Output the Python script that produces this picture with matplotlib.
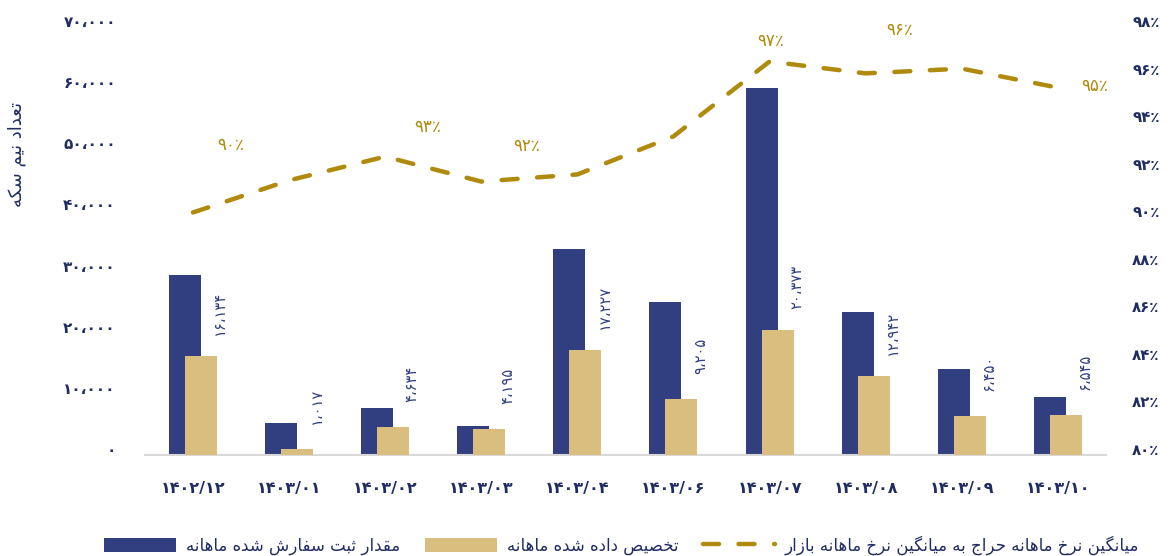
import matplotlib
matplotlib.use("Agg")
import matplotlib.pyplot as plt
import matplotlib.transforms as mtransforms
import numpy as np

# month labels (Persian calendar)
months = ['۱۴۰۲/۱۲', '۱۴۰۳/۰۱', '۱۴۰۳/۰۲', '۱۴۰۳/۰۳', '۱۴۰۳/۰۴',
          '۱۴۰۳/۰۶', '۱۴۰۳/۰۷', '۱۴۰۳/۰۸', '۱۴۰۳/۰۹', '۱۴۰۳/۱۰']
# monthly registered orders (half coins)
registered = [29440, 5190, 7640, 4750, 33700, 25020, 60080, 23440, 14130, 9550]
# monthly allocated (labelled values)
allocated = [16134, 1017, 4634, 4195, 17227, 9205, 20373, 12942, 6450, 6545]
# auction rate / market rate (%)
ratio = [90.2, 91.55, 92.55, 91.5, 91.8, 93.4, 96.55, 96.05, 96.25, 95.45]
# line labels: (point index, text, dx px, dy px)
ratio_labels = [(0, '۹۰٪', 38, 67), (2, '۹۳٪', 43, 30), (3, '۹۲٪', 45, 36),
                (6, '۹۷٪', 1, 20), (7, '۹۶٪', 34, 43), (9, '۹۵٪', 37, 2)]

y_title = 'تعداد نیم سکه'
name_registered = 'مقدار ثبت سفارش شده ماهانه'
name_allocated = 'تخصیص داده شده ماهانه'
name_ratio = 'میانگین نرخ ماهانه حراج به میانگین نرخ ماهانه بازار'

NAVY = '#1f2d62'
DARK = '#313f80'
TAN = '#dabe7f'
GOLD = '#b08a0c'

# --- minimal Persian shaping (matplotlib has no text shaping) ---
# letter: (isolated, final, initial, medial); None = does not join forward
FORMS = {
    'ا': ('\uFE8D', '\uFE8E', None, None),
    'ب': ('\uFE8F', '\uFE90', '\uFE91', '\uFE92'),
    'ت': ('\uFE95', '\uFE96', '\uFE97', '\uFE98'),
    'ث': ('\uFE99', '\uFE9A', '\uFE9B', '\uFE9C'),
    'ج': ('\uFE9D', '\uFE9E', '\uFE9F', '\uFEA0'),
    'ح': ('\uFEA1', '\uFEA2', '\uFEA3', '\uFEA4'),
    'خ': ('\uFEA5', '\uFEA6', '\uFEA7', '\uFEA8'),
    'د': ('\uFEA9', '\uFEAA', None, None),
    'ر': ('\uFEAD', '\uFEAE', None, None),
    'ز': ('\uFEAF', '\uFEB0', None, None),
    'س': ('\uFEB1', '\uFEB2', '\uFEB3', '\uFEB4'),
    'ش': ('\uFEB5', '\uFEB6', '\uFEB7', '\uFEB8'),
    'ص': ('\uFEB9', '\uFEBA', '\uFEBB', '\uFEBC'),
    'ع': ('\uFEC9', '\uFECA', '\uFECB', '\uFECC'),
    'ف': ('\uFED1', '\uFED2', '\uFED3', '\uFED4'),
    'ق': ('\uFED5', '\uFED6', '\uFED7', '\uFED8'),
    'م': ('\uFEE1', '\uFEE2', '\uFEE3', '\uFEE4'),
    'ن': ('\uFEE5', '\uFEE6', '\uFEE7', '\uFEE8'),
    'ه': ('\uFEE9', '\uFEEA', '\uFEEB', '\uFEEC'),
    'و': ('\uFEED', '\uFEEE', None, None),
    'ی': ('\uFBFC', '\uFBFD', '\uFBFE', '\uFBFF'),
    'ک': ('\uFB8E', '\uFB8F', '\uFB90', '\uFB91'),
    'گ': ('\uFB92', '\uFB93', '\uFB94', '\uFB95'),
}


def fa(text):
    out = []
    for i, c in enumerate(text):
        if c not in FORMS:
            out.append(c)
            continue
        prev = text[i - 1] if i > 0 else ''
        nxt = text[i + 1] if i + 1 < len(text) else ''
        jp = prev in FORMS and FORMS[prev][2] is not None
        jn = FORMS[c][2] is not None and nxt in FORMS
        iso, fin, ini, med = FORMS[c]
        if jp and jn:
            out.append(med)
        elif jp:
            out.append(fin)
        elif jn:
            out.append(ini)
        else:
            out.append(iso)
    return ''.join(out)[::-1]


def fa_num(v):
    s = f'{int(v):,}'.replace(',', '،')
    return s.translate(str.maketrans('0123456789', '۰۱۲۳۴۵۶۷۸۹'))


plt.rcParams['font.family'] = ['DejaVu Sans']

fig = plt.figure(figsize=(11.69, 5.56), dpi=100)
ax = fig.add_axes([0.124, 0.1817, 0.822, 0.7697])
ax2 = ax.twinx()

x = np.arange(len(months))
w = 0.333
off = 0.083
ax.bar(x - off, registered, w, color=DARK, zorder=2, label=fa(name_registered))
ax.bar(x + off, allocated, w, color=TAN, zorder=3, label=fa(name_allocated))

for i, v in enumerate(allocated):
    ax.annotate(fa_num(v), (x[i] + 0.28, v), xytext=(0, 43), textcoords='offset pixels',
                rotation=90, ha='center', va='center', fontsize=10.5, color=DARK, zorder=4)

ax2.plot(x, ratio, color=GOLD, lw=3.2, linestyle=(0, (3.6, 4.4)),
         dash_capstyle='round', label=fa(name_ratio))
for i, txt, dx, dy in ratio_labels:
    ax2.annotate(txt, (x[i], ratio[i]), xytext=(dx, dy), textcoords='offset pixels',
                 ha='center', va='center', fontsize=12, color=GOLD)

ax.set_xlim(-0.5, len(months) - 0.5)
ax.set_ylim(0, 70000)
ax2.set_ylim(80, 98)
ax.set_yticks(np.arange(0, 70001, 10000))
ax.set_yticklabels([fa_num(v) for v in range(0, 70001, 10000)])
ax2.set_yticks(np.arange(80, 99, 2))
ax2.set_yticklabels([fa_num(v) + '٪' for v in range(80, 99, 2)])
ax.set_xticks(x)
ax.set_xticklabels(months)

for a in (ax, ax2):
    for s in a.spines.values():
        s.set_visible(False)
    a.tick_params(length=0, colors=NAVY, labelsize=11)
ax.spines['bottom'].set_visible(True)
ax.spines['bottom'].set_color('#d9d9d9')
ax.spines['bottom'].set_linewidth(1.5)
ax.tick_params(axis='y', pad=21)
ax2.tick_params(axis='y', pad=19, labelsize=10.8)
ax.tick_params(axis='x', pad=19, labelsize=11.5)

shift = mtransforms.ScaledTranslation(0, 6 / 100, fig.dpi_scale_trans)
for lab in ax.get_yticklabels() + ax2.get_yticklabels():
    lab.set_transform(lab.get_transform() + shift)
    lab.set_fontweight('bold')
for lab in ax.get_xticklabels():
    lab.set_fontweight('bold')

ax.set_ylabel(fa(y_title), color=NAVY, fontsize=13)
ax.yaxis.set_label_coords(-0.124, 0.703)

h1, l1 = ax.get_legend_handles_labels()
h2, l2 = ax2.get_legend_handles_labels()
fig.legend(h1 + h2, l1 + l2, loc='center', bbox_to_anchor=(0.532, 0.0198), ncol=3,
           frameon=False, fontsize=12, labelcolor=NAVY, handlelength=4.3,
           handleheight=0.95, handletextpad=0.6, columnspacing=1.5)

fig.savefig('out.png', dpi=100)
